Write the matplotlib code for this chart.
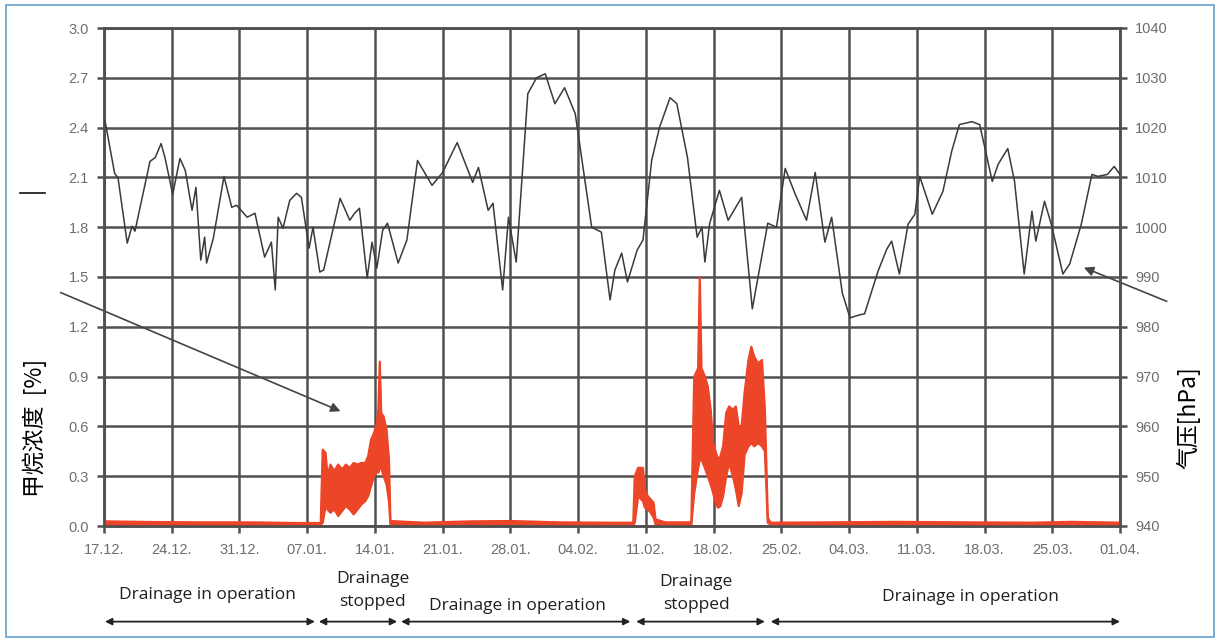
import numpy as np
import matplotlib.pyplot as plt
from matplotlib.patches import Rectangle
from matplotlib.lines import Line2D

# Data (days counted from 17.12.)
date_labels = ["17.12.", "24.12.", "31.12.", "07.01.", "14.01.", "21.01.", "28.01.", "04.02.",
               "11.02.", "18.02.", "25.02.", "04.03.", "11.03.", "18.03.", "25.03.", "01.04."]

pressure_day = [0.1, 1.1, 1.45, 2.4, 2.9, 3.2, 4.75, 5.3, 5.9, 6.3, 7.1, 7.85, 8.4, 9.1, 9.5, 10.0,
                10.4, 10.6, 11.3, 12.4, 13.2, 13.7, 14.8, 15.6, 16.6, 17.3, 17.7, 18.0, 18.5, 19.2,
                19.9, 20.4, 21.2, 21.6, 22.3, 22.7, 24.4, 25.4, 25.9, 26.4, 27.2, 27.7, 28.2, 28.8,
                29.3, 30.4, 31.3, 32.4, 33.9, 35.0, 36.5, 38.1, 38.7, 39.7, 40.2, 41.2, 41.8, 42.6,
                43.8, 44.7, 45.6, 46.6, 47.6, 48.7, 50.4, 51.4, 52.3, 52.8, 53.5, 54.1, 55.1, 55.7,
                56.6, 57.4, 58.5, 59.2, 60.3, 61.3, 61.8, 62.1, 62.6, 63.6, 64.5, 65.9, 67.0, 68.6,
                69.5, 70.4, 71.4, 72.6, 73.5, 74.5, 75.2, 76.3, 77.1, 78.1, 78.6, 80.0, 80.9, 81.4,
                82.2, 83.1, 83.8, 84.3, 85.6, 86.7, 87.6, 88.4, 89.7, 90.5, 91.8, 92.4, 93.4, 94.1,
                95.1, 95.9, 96.3, 97.2, 97.9, 99.1, 99.8, 101.0, 102.1, 102.7, 103.7, 104.4, 105.0]
pressure_hpa = [1021.4, 1010.8, 1009.9, 996.8, 1000.2, 999.2, 1013.2, 1014.0, 1016.8, 1014.0,
                1006.6, 1013.8, 1011.4, 1003.4, 1008.0, 993.4, 998.0, 992.8, 997.8, 1010.2,
                1004.0, 1004.4, 1002.0, 1002.8, 994.0, 997.0, 987.4, 1002.0, 999.8, 1005.4,
                1006.8, 1006.0, 995.8, 1000.0, 991.0, 991.4, 1005.8, 1001.4, 1002.8, 1003.8,
                989.8, 997.0, 991.8, 999.4, 1000.8, 992.8, 997.4, 1013.4, 1008.4, 1011.0,
                1017.0, 1009.0, 1012.0, 1003.4, 1004.8, 987.4, 1002.0, 993.0, 1026.8, 1030.0,
                1030.8, 1024.8, 1028.0, 1022.8, 1000.0, 999.0, 985.4, 991.4, 994.8, 989.0,
                995.4, 997.4, 1013.4, 1020.0, 1026.0, 1024.8, 1014.0, 998.0, 1000.0, 993.0,
                1000.8, 1007.4, 1001.4, 1006.0, 983.6, 1000.8, 1000.0, 1011.8, 1006.8, 1001.4,
                1011.0, 997.0, 1002.0, 986.8, 981.8, 982.4, 982.6, 991.2, 995.6, 997.2,
                990.6, 1000.6, 1002.6, 1010.2, 1002.6, 1007.2, 1015.2, 1020.6, 1021.2, 1020.6,
                1009.2, 1012.6, 1015.8, 1009.2, 990.6, 1003.2, 997.2, 1005.2, 1000.6, 990.6,
                992.6, 1000.6, 1010.6, 1010.2, 1010.6, 1012.2, 1010.6]

# Methane concentration: lower / upper envelope of the dense record
methane_day = [0.0, 5.0, 10.0, 15.0, 20.0, 22.4,
               22.6, 22.9, 23.1, 23.4, 23.8, 24.2, 24.6, 25.0, 25.4, 25.8, 26.2, 26.6, 27.0,
               27.3, 27.6, 27.9, 28.2, 28.35, 28.5, 28.65, 28.9, 29.2, 29.45, 29.6,
               33.0, 38.0, 42.0, 47.0, 52.0, 54.7,
               54.85, 55.2, 55.7, 55.9, 56.2, 56.5, 56.8, 57.0,
               58.0, 60.7,
               61.0, 61.4, 61.57, 61.75, 62.1, 62.4, 62.7, 62.95, 63.2, 63.46, 63.7, 63.98,
               64.3, 64.6, 65.0, 65.3, 65.6, 65.9, 66.2, 66.6, 66.9, 67.2, 67.6, 68.0, 68.3, 68.6,
               68.9, 75.0, 82.0, 89.0, 96.0, 100.0, 105.0]
methane_lo = [0.008, 0.008, 0.008, 0.008, 0.008, 0.008,
              0.02, 0.12, 0.10, 0.08, 0.10, 0.06, 0.09, 0.12, 0.10, 0.07, 0.10, 0.13, 0.15,
              0.18, 0.24, 0.30, 0.33, 0.32, 0.35, 0.35, 0.30, 0.25, 0.15, 0.01,
              0.008, 0.012, 0.012, 0.008, 0.008, 0.008,
              0.02, 0.18, 0.15, 0.11, 0.10, 0.08, 0.05, 0.01,
              0.008, 0.008,
              0.20, 0.35, 0.40, 0.40, 0.35, 0.30, 0.25, 0.20, 0.14, 0.11, 0.12, 0.18,
              0.30, 0.38, 0.30, 0.22, 0.12, 0.20, 0.43, 0.48, 0.50, 0.48, 0.50, 0.48, 0.45, 0.02,
              0.008, 0.008, 0.008, 0.008, 0.008, 0.008, 0.008]
methane_hi = [0.028, 0.024, 0.022, 0.022, 0.018, 0.018,
              0.46, 0.44, 0.30, 0.37, 0.33, 0.37, 0.34, 0.37, 0.35, 0.38, 0.37, 0.38, 0.38,
              0.42, 0.52, 0.56, 0.62, 0.70, 0.99, 0.68, 0.66, 0.58, 0.40, 0.03,
              0.02, 0.028, 0.03, 0.022, 0.02, 0.02,
              0.30, 0.35, 0.35, 0.22, 0.18, 0.16, 0.14, 0.04,
              0.022, 0.022,
              0.90, 0.95, 1.50, 0.95, 0.90, 0.84, 0.70, 0.50, 0.45, 0.40, 0.42, 0.48,
              0.68, 0.72, 0.70, 0.72, 0.60, 0.60, 0.80, 1.00, 1.08, 1.02, 0.98, 1.00, 0.70, 0.05,
              0.02, 0.022, 0.025, 0.022, 0.02, 0.025, 0.02]

# Operating phases (start day, end day, label)
phase_start = [0.1, 22.2, 30.7, 55.0, 68.9]
phase_end = [21.8, 30.3, 54.4, 68.3, 105.0]
phase_label = ["Drainage in operation", "Drainage\nstopped", "Drainage in operation",
               "Drainage\nstopped", "Drainage in operation"]
phase_text_day = [10.7, 27.8, 42.7, 61.2, 89.5]
phase_text_y = [-0.139, -0.129, -0.161, -0.135, -0.143]

GRID = "#505050"
TICK_TXT = "#6e6e6e"
RED = "#ec4527"
CJK = ["Noto Sans CJK SC", "DejaVu Sans"]

fig = plt.figure(figsize=(12.21, 6.41), dpi=100)
ax = fig.add_axes([104 / 1221, 1 - 526 / 641, 1016 / 1221, 498 / 641])

# grid + frame
ax.set_xlim(0, 105)
ax.set_ylim(0, 3.0)
ax.set_xticks(np.arange(0, 106, 7))
ax.set_xticklabels(date_labels)
ax.set_yticks(np.arange(0, 3.01, 0.3))
ax.set_yticklabels([f"{v:.1f}" for v in np.arange(0, 3.01, 0.3)])
ax.grid(True, color=GRID, lw=1.8)
for s in ax.spines.values():
    s.set_color(GRID)
    s.set_linewidth(1.8)
ax.tick_params(axis="both", direction="out", length=5, width=1.8, color=GRID,
               labelcolor=TICK_TXT, labelsize=10.5)
ax.tick_params(axis="x", pad=7)
ax.tick_params(axis="y", pad=6)
for lab in ax.get_xticklabels() + ax.get_yticklabels():
    lab.set_family("Liberation Sans")

# methane
ax.fill_between(methane_day, methane_lo, methane_hi, color=RED, lw=0, zorder=3)
ax.plot(methane_day, methane_hi, color=RED, lw=1.6, zorder=3)
ax.plot(methane_day, methane_lo, color=RED, lw=1.6, zorder=3)

# pressure on the right axis
ax2 = ax.twinx()
ax2.set_ylim(940, 1040)
ax2.set_yticks(np.arange(940, 1041, 10))
ax2.tick_params(axis="y", direction="out", length=5, width=1.8, color=GRID,
                labelcolor=TICK_TXT, labelsize=10.5, pad=6)
for lab in ax2.get_yticklabels():
    lab.set_family("Liberation Sans")
for s in ax2.spines.values():
    s.set_color(GRID)
    s.set_linewidth(1.8)
ax2.plot(pressure_day, pressure_hpa, color="#3a3a3a", lw=1.1, zorder=4)

# axis labels
fig.text(35 / 1221, 1 - 428 / 641, "甲烷浓度  [%]", rotation=90, ha="center", va="center",
         fontsize=16.5, family=CJK)
fig.text(1188 / 1221, 1 - 418 / 641, "气压[hPa]", rotation=90, ha="center", va="center",
         fontsize=16.5, family=CJK)

# pointer arrows
ax.annotate("", xy=(24.7, 0.685), xytext=(-4.75, 1.413), annotation_clip=False,
            arrowprops=dict(arrowstyle="-|>", color="#444444", lw=1.2, mutation_scale=14))
ax.annotate("", xy=(101.0, 1.563), xytext=(110.1, 1.347), annotation_clip=False,
            arrowprops=dict(arrowstyle="-|>", color="#444444", lw=1.2, mutation_scale=14))

# operating phases below the axis
xform = ax.get_xaxis_transform()
for st, en in zip(phase_start, phase_end):
    ax.annotate("", xy=(en, -0.192), xytext=(st, -0.192), xycoords=xform, textcoords=xform,
                annotation_clip=False,
                arrowprops=dict(arrowstyle="<|-|>", color="#222222", lw=1.3,
                                mutation_scale=10, shrinkA=0, shrinkB=0))
for d, ty, lab in zip(phase_text_day, phase_text_y, phase_label):
    ax.text(d, ty, lab, transform=xform, ha="center", va="center", fontsize=12.5,
            family="Open Sans", color="#1e1e1e", linespacing=1.55, clip_on=False)

# small mark at the left edge
fig.lines.append(Line2D([20 / 1221, 45 / 1221], [1 - 193 / 641, 1 - 193 / 641],
                        transform=fig.transFigure, color="#111111", lw=1.2))

# outer border
fig.patches.append(Rectangle((6 / 1221, 4 / 641), 1208 / 1221, 632 / 641,
                             transform=fig.transFigure, fill=False,
                             edgecolor="#6fa8cf", lw=1.3))

fig.savefig("out.png", dpi=100)
